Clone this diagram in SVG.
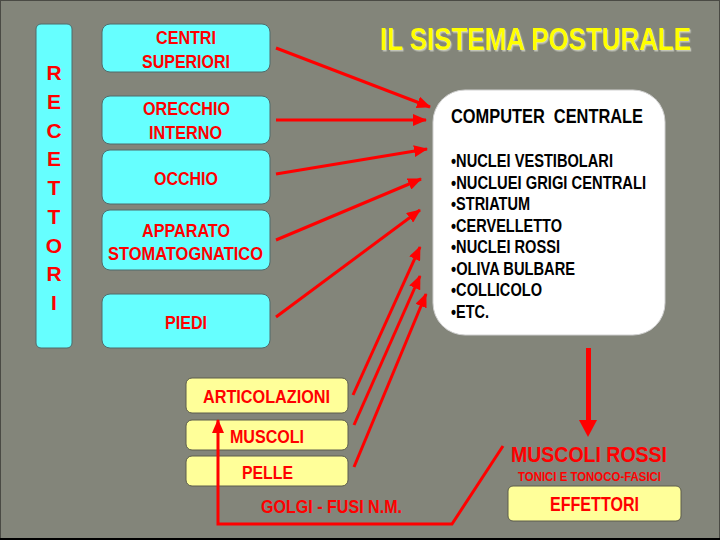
<svg xmlns="http://www.w3.org/2000/svg" width="720" height="540" viewBox="0 0 720 540">
<defs>
<style>
.bg{fill:#83857a}
.cyan{fill:#66ffff;stroke:#4f6b6b;stroke-width:1}
.yel{fill:#ffff99;stroke:#5c5c4c;stroke-width:1}
.rt{font-family:"Liberation Sans",Arial,sans-serif;font-weight:bold;fill:#ff0000}
.bt{font-family:"Liberation Sans",Arial,sans-serif;font-weight:bold;fill:#000000}
.ln{stroke:#ff0000;stroke-width:3;fill:none}
</style>
<filter id="sh" x="-10%" y="-50%" width="120%" height="200%">
<feDropShadow dx="1.5" dy="1.5" stdDeviation="0.6" flood-color="#c0c2b8" flood-opacity="1"/>
</filter>
<marker id="ah" markerUnits="userSpaceOnUse" markerWidth="14" markerHeight="12" refX="13" refY="6" orient="auto" viewBox="0 0 14 12">
<path d="M0,0 L14,6 L0,12 Z" fill="#ff0000"/>
</marker>
</defs>
<rect class="bg" x="0" y="0" width="720" height="540"/>
<rect x="0.5" y="0.5" width="719" height="538" fill="none" stroke="#4a4a44" stroke-width="1"/>
<rect x="0" y="538" width="720" height="2" fill="#000"/>

<g id="title" transform="translate(380,50) scale(0.81,1)" filter="url(#sh)">
<text x="0" y="0" font-family="Liberation Sans,Arial,sans-serif" font-weight="bold" font-size="32" fill="#ffff00">IL SISTEMA POSTURALE</text>
</g>

<g id="recettori">
<rect class="cyan" x="36" y="24" width="36" height="324" rx="5"/>
<g class="rt" font-size="21" text-anchor="middle">
<text x="54" y="80">R</text>
<text x="54" y="108.75">E</text>
<text x="54" y="137.5">C</text>
<text x="54" y="166.25">E</text>
<text x="54" y="195">T</text>
<text x="54" y="223.75">T</text>
<text x="54" y="252.5">O</text>
<text x="54" y="281.25">R</text>
<text x="54" y="310">I</text>
</g>
</g>

<g id="centri">
<rect class="cyan" x="102" y="24" width="168" height="48" rx="8"/>
<text class="rt" font-size="19" x="156" y="44" textLength="60" lengthAdjust="spacingAndGlyphs">CENTRI</text>
<text class="rt" font-size="19" x="142" y="68" textLength="88" lengthAdjust="spacingAndGlyphs">SUPERIORI</text>
</g>
<g id="orecchio">
<rect class="cyan" x="102" y="96" width="168" height="48" rx="8"/>
<text class="rt" font-size="19" x="143" y="115" textLength="87" lengthAdjust="spacingAndGlyphs">ORECCHIO</text>
<text class="rt" font-size="19" x="149" y="139" textLength="73" lengthAdjust="spacingAndGlyphs">INTERNO</text>
</g>
<g id="occhio">
<rect class="cyan" x="102" y="150" width="168" height="54" rx="8"/>
<text class="rt" font-size="19" x="154" y="185" textLength="64" lengthAdjust="spacingAndGlyphs">OCCHIO</text>
</g>
<g id="apparato">
<rect class="cyan" x="102" y="210" width="168" height="60" rx="8"/>
<text class="rt" font-size="19" x="142" y="237" textLength="88" lengthAdjust="spacingAndGlyphs">APPARATO</text>
<text class="rt" font-size="19" x="108" y="260" textLength="155" lengthAdjust="spacingAndGlyphs">STOMATOGNATICO</text>
</g>
<g id="piedi">
<rect class="cyan" x="102" y="294" width="168" height="54" rx="8"/>
<text class="rt" font-size="19" x="165" y="329" textLength="42" lengthAdjust="spacingAndGlyphs">PIEDI</text>
</g>

<g id="computer">
<rect x="433" y="90" width="232" height="245" rx="32" fill="#ffffff" stroke="#d0d0d0" stroke-width="1"/>
<text class="bt" font-size="20" x="451" y="123" textLength="192" lengthAdjust="spacingAndGlyphs" xml:space="preserve" style="white-space:pre">COMPUTER  CENTRALE</text>
<g class="bt" font-size="18">
<text x="451" y="167" textLength="162" lengthAdjust="spacingAndGlyphs">•NUCLEI VESTIBOLARI</text>
<text x="451" y="188.5" textLength="195" lengthAdjust="spacingAndGlyphs">•NUCLUEI GRIGI CENTRALI</text>
<text x="451" y="210" textLength="79" lengthAdjust="spacingAndGlyphs">•STRIATUM</text>
<text x="451" y="231.5" textLength="111" lengthAdjust="spacingAndGlyphs">•CERVELLETTO</text>
<text x="451" y="253" textLength="109" lengthAdjust="spacingAndGlyphs">•NUCLEI ROSSI</text>
<text x="451" y="274.5" textLength="124" lengthAdjust="spacingAndGlyphs">•OLIVA BULBARE</text>
<text x="451" y="296" textLength="91" lengthAdjust="spacingAndGlyphs">•COLLICOLO</text>
<text x="451" y="317.5" textLength="38" lengthAdjust="spacingAndGlyphs">•ETC.</text>
</g>
</g>

<g id="articolazioni">
<rect class="yel" x="186" y="378" width="162" height="35" rx="6"/>
<text class="rt" font-size="18" x="203" y="403" textLength="127" lengthAdjust="spacingAndGlyphs">ARTICOLAZIONI</text>
</g>
<g id="muscoli">
<rect class="yel" x="186" y="420" width="162" height="30" rx="6"/>
<text class="rt" font-size="18" x="230" y="443" textLength="74" lengthAdjust="spacingAndGlyphs">MUSCOLI</text>
</g>
<g id="pelle">
<rect class="yel" x="186" y="456" width="162" height="30" rx="6"/>
<text class="rt" font-size="18" x="242" y="479" textLength="51" lengthAdjust="spacingAndGlyphs">PELLE</text>
</g>

<g id="muscoli-rossi">
<text class="rt" font-size="22" x="511" y="462" textLength="156" lengthAdjust="spacingAndGlyphs">MUSCOLI ROSSI</text>
<text class="rt" font-size="12.5" x="518" y="481" textLength="143" lengthAdjust="spacingAndGlyphs">TONICI E TONOCO-FASICI</text>
</g>
<g id="effettori">
<rect class="yel" x="508" y="486" width="173" height="35" rx="5"/>
<text class="rt" font-size="20" x="550" y="511" textLength="89" lengthAdjust="spacingAndGlyphs">EFFETTORI</text>
</g>

<g id="golgi-label">
<text class="rt" font-size="18" x="261" y="513" textLength="141" lengthAdjust="spacingAndGlyphs">GOLGI - FUSI N.M.</text>
</g>

<g id="connectors">
<line class="ln" x1="276" y1="48" x2="430" y2="107" marker-end="url(#ah)"/>
<line class="ln" x1="276" y1="120" x2="426" y2="120" marker-end="url(#ah)"/>
<line class="ln" x1="276" y1="174" x2="427" y2="149" marker-end="url(#ah)"/>
<line class="ln" x1="276" y1="240" x2="421" y2="179" marker-end="url(#ah)"/>
<line class="ln" x1="276" y1="317" x2="420" y2="210" marker-end="url(#ah)"/>
<line class="ln" x1="353" y1="395" x2="420" y2="247" marker-end="url(#ah)"/>
<line class="ln" x1="354" y1="425" x2="420" y2="276" marker-end="url(#ah)"/>
<line class="ln" x1="354" y1="467" x2="426" y2="294" marker-end="url(#ah)"/>
<polyline class="ln" points="503,446 452,524 218,524 218,420" marker-end="url(#ah)"/>
<rect x="586" y="348" width="5" height="73" fill="#ff0000"/>
<polygon points="579,420 597,420 588,437" fill="#ff0000"/>
</g>
</svg>
